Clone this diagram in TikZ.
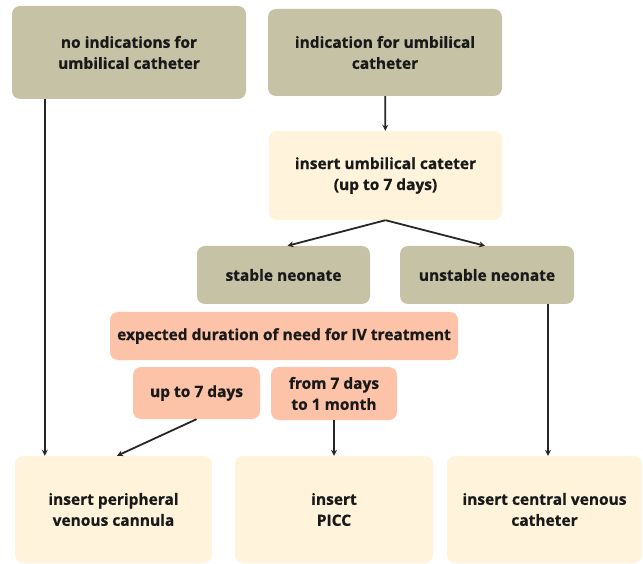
\documentclass[tikz,border=0pt]{standalone}
\usepackage{fontspec}
\setmainfont{Open Sans}[BoldFeatures={FakeBold=0.8}]
\usetikzlibrary{arrows.meta}
\definecolor{khaki}{HTML}{C6C2A6}
\definecolor{cream}{HTML}{FFF4DB}
\definecolor{salmon}{HTML}{FCC3A9}
\tikzset{
  box/.style={rounded corners=8pt, align=center, inner sep=0pt,
    font=\bfseries\fontsize{15.5}{21}\selectfont, text=black!90},
  grey/.style={box, fill=khaki},
  light/.style={box, fill=cream},
  rose/.style={box, fill=salmon},
}
\begin{document}
\begin{tikzpicture}[x=1pt, y=-1pt]
      \useasboundingbox (0,0) rectangle (643,564);
      \draw
        (129,52.5) node[grey, minimum width=234pt, minimum height=93pt] (noind){no indications for\\umbilical catheter}
        (385,52.5) node[grey, minimum width=234pt, minimum height=87pt] (ind){indication for umbilical\\catheter}
        (385.5,175.5) node[light, minimum width=233pt, minimum height=89pt] (umb){insert umbilical cateter\\(up to 7 days)}
        (283.5,275) node[grey, minimum width=173pt, minimum height=58pt] (stable){stable neonate}
        (487,275) node[grey, minimum width=174pt, minimum height=58pt] (unstable){unstable neonate}
        (284,336) node[rose, minimum width=348pt, minimum height=48pt] (duration){expected duration of need for IV treatment}
        (196.5,393) node[rose, minimum width=127pt, minimum height=52pt] (short){up to 7 days}
        (334,393.5) node[rose, minimum width=126pt, minimum height=53pt] (long){from 7 days\\to 1 month}
        (113.5,509.5) node[light, minimum width=197pt, minimum height=107pt] (periph){insert peripheral\\venous cannula}
        (334,509.5) node[light, minimum width=198pt, minimum height=107pt] (picc){insert\\PICC}
        (544.5,509.5) node[light, minimum width=195pt, minimum height=107pt] (central){insert central venous\\catheter};
      \begin{scope}[-{Stealth[length=6pt, width=6pt]}, line width=1.8pt, black!85]
        \draw ([xshift=33pt]noind.south west) to ([xshift=30pt]periph.north west);
        \draw (ind) to (umb);
        \draw (umb.south) to ([xshift=4pt]stable.north);
        \draw (umb.south) to ([xshift=-2pt]unstable.north);
        \draw ([xshift=61pt]unstable.south) to ([xshift=61pt]unstable.south |- central.north);
        \draw (short.south) to ([xshift=3.5pt]periph.north);
        \draw (long) to (picc);
      \end{scope}
    \end{tikzpicture}
\end{document}
